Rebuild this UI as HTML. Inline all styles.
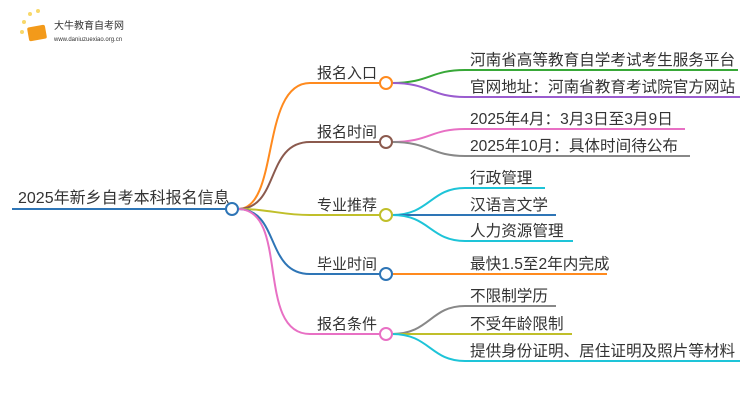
<!DOCTYPE html>
<html><head><meta charset="utf-8"><style>
body{margin:0;background:#fff;width:750px;height:410px;overflow:hidden}
text{font-family:"Liberation Sans","Noto Sans CJK SC",sans-serif;fill:#333}
</style></head><body>
<svg width="750" height="410" viewBox="0 0 750 410" xmlns="http://www.w3.org/2000/svg">
<g fill="none" stroke-width="2">
<path d="M12 209H226" stroke="#2e75b6"/>
<path d="M238 209C280 209 260 83 310 83H380" stroke="#ff8a1e"/>
<path d="M238 209C280 209 265 142 310 142H380" stroke="#8b5a4e"/>
<path d="M238 209C270 209 280 215 310 215H380" stroke="#c0bf2a"/>
<path d="M238 209C280 209 265 274 310 274H380" stroke="#2e75b6"/>
<path d="M238 209C290 209 255 334 310 334H380" stroke="#e870c4"/>
<path d="M392 83C430 83 430 70 465 70H738" stroke="#38a838"/>
<path d="M392 83C430 83 430 97 465 97H740" stroke="#9a5ccf"/>
<path d="M392 142C430 142 430 129 465 129H685" stroke="#e870c4"/>
<path d="M392 142C430 142 430 156 465 156H690" stroke="#888"/>
<path d="M392 215C430 215 430 188 465 188H545" stroke="#1ec4d8"/>
<path d="M392 215H556" stroke="#2e75b6"/>
<path d="M392 215C430 215 430 241 465 241H573" stroke="#1ec4d8"/>
<path d="M392 274H607" stroke="#ff8a1e"/>
<path d="M392 334C430 334 430 306 465 306H556" stroke="#888"/>
<path d="M392 334H572" stroke="#c0bf2a"/>
<path d="M392 334C430 334 430 361 465 361H740" stroke="#1ec4d8"/>
</g>
<g fill="#fff" stroke-width="2">
<circle cx="232" cy="209" r="6" stroke="#2e75b6"/>
<circle cx="386" cy="83" r="6" stroke="#ff8a1e"/>
<circle cx="386" cy="142" r="6" stroke="#8b5a4e"/>
<circle cx="386" cy="215" r="6" stroke="#c0bf2a"/>
<circle cx="386" cy="274" r="6" stroke="#2e75b6"/>
<circle cx="386" cy="334" r="6" stroke="#e870c4"/>
</g>
<text x="18" y="203" font-size="16">2025年新乡自考本科报名信息</text>
<g font-size="15">
<text x="317" y="78">报名入口</text>
<text x="317" y="137">报名时间</text>
<text x="317" y="210">专业推荐</text>
<text x="317" y="269">毕业时间</text>
<text x="317" y="329">报名条件</text>
</g>
<g font-size="15.6">
<text x="470" y="65">河南省高等教育自学考试考生服务平台</text>
<text x="470" y="92">官网地址：河南省教育考试院官方网站</text>
<text x="470" y="124">2025年4月：3月3日至3月9日</text>
<text x="470" y="151">2025年10月：具体时间待公布</text>
<text x="470" y="183">行政管理</text>
<text x="470" y="210">汉语言文学</text>
<text x="470" y="236">人力资源管理</text>
<text x="470" y="269">最快1.5至2年内完成</text>
<text x="470" y="301">不限制学历</text>
<text x="470" y="329">不受年龄限制</text>
<text x="470" y="356">提供身份证明、居住证明及照片等材料</text>
</g>
<g>
<circle cx="24" cy="22" r="2" fill="#f8d86a"/><circle cx="30" cy="14" r="2" fill="#f8d86a"/><circle cx="38" cy="11" r="2" fill="#f8d86a"/><circle cx="22" cy="32" r="2" fill="#f8d86a"/>
<rect x="28" y="26" width="18" height="14" rx="2" fill="#f39a1a" transform="rotate(-10 37 33)"/>
<text x="54" y="29" font-size="10" fill="#333">大牛教育自考网</text>
<text x="54" y="41" font-size="6" fill="#666">www.daniuzuexiao.org.cn</text>
</g>
</svg>
</body></html>
